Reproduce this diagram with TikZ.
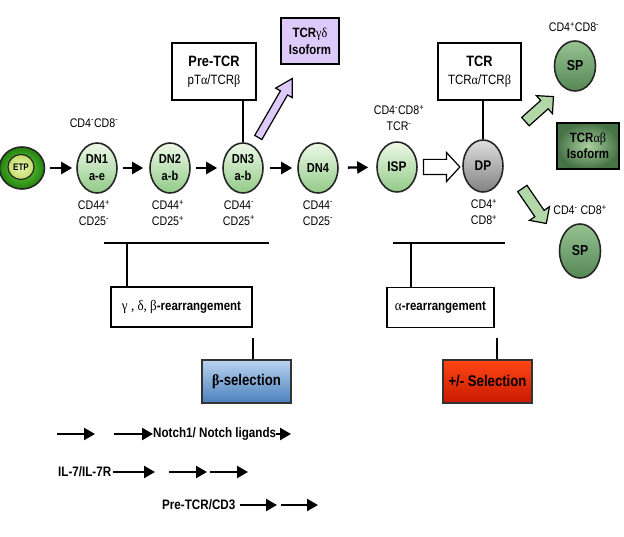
\documentclass[tikz,border=0pt]{standalone}
\usepackage{fontspec}
\setmainfont{Liberation Sans}[FakeStretch=0.85]
\newfontfamily\grk{Liberation Serif}[FakeStretch=0.9]
\usetikzlibrary{shapes.geometric,shapes.arrows,arrows.meta,calc}
\definecolor{dnTop}{RGB}{238,249,232}
\definecolor{dnBot}{RGB}{145,202,135}
\definecolor{etpLight}{RGB}{110,215,60}
\definecolor{etpDark}{RGB}{35,130,15}
\definecolor{etpPale}{RGB}{236,246,180}
\definecolor{etpPaleD}{RGB}{195,220,105}
\definecolor{spTop}{RGB}{150,195,145}
\definecolor{spBot}{RGB}{85,135,85}
\definecolor{dpTop}{RGB}{222,222,222}
\definecolor{dpBot}{RGB}{130,130,130}
\definecolor{abIn}{RGB}{170,208,160}
\definecolor{abOut}{RGB}{70,115,70}
\definecolor{lav}{RGB}{222,202,250}
\definecolor{fatGreen}{RGB}{178,216,168}
\definecolor{blueTop}{RGB}{185,212,240}
\definecolor{blueBot}{RGB}{75,128,188}
\definecolor{redTop}{RGB}{255,70,20}
\definecolor{redBot}{RGB}{200,25,0}
\newcommand\spx[1]{\textsuperscript{#1}}
\begin{document}
\begin{tikzpicture}[x=1pt,y=-1pt,
  cell/.style={ellipse, draw=black!85, line width=1.6pt, inner sep=0pt, align=center, font=\fontsize{13}{17}\selectfont\bfseries},
  dncell/.style={cell, minimum width=40pt, minimum height=50pt, top color=dnTop, bottom color=dnBot},
  spcell/.style={cell, minimum width=41pt, minimum height=50pt, top color=spTop, bottom color=spBot, font=\fontsize{14.5}{17}\selectfont\bfseries},
  lbl/.style={inner sep=0pt, align=center, font=\fontsize{12.5}{16}\selectfont},
  box/.style={draw=black, line width=1.4pt, inner sep=0pt, align=center},
  selbox/.style={draw=black!80, line width=2pt, inner sep=0pt, align=center, minimum width=89pt, minimum height=43pt, font=\fontsize{15.5}{17}\selectfont\bfseries},
  flow/.style={line width=2.3pt, -{Triangle[length=11pt,width=12pt]}},
  bar/.style={line width=1.5pt},
  fat/.style={single arrow, draw=black, line width=1.2pt, inner xsep=0pt, minimum width=0pt, anchor=tail},
  leg/.style={inner sep=0pt, font=\fontsize{13.7}{15}\selectfont\bfseries, anchor=west}
]
\useasboundingbox (0,0) rectangle (624,537);

% cells
\node[ellipse, draw=black!85, line width=1.6pt, minimum width=45pt, minimum height=42pt, inner color=etpLight, outer color=etpDark] (etp) at (22,168) {};
\node[ellipse, draw=black!85, line width=1.2pt, minimum width=26pt, minimum height=25pt, inner sep=0pt, inner color=etpPale, outer color=etpPaleD, font=\fontsize{9.5}{10}\selectfont\bfseries] (etpin) at (21,167) {ETP};
\node[dncell] (dn1) at (97,168) {DN1\\a-e};
\node[dncell] (dn2) at (170,168) {DN2\\a-b};
\node[dncell] (dn3) at (243,168) {DN3\\a-b};
\node[dncell] (dn4) at (318,168) {DN4};
\node[dncell, font=\fontsize{14}{16}\selectfont\bfseries] (isp) at (397,167) {ISP};
\node[cell, minimum width=40pt, minimum height=52pt, top color=dpTop, bottom color=dpBot, font=\fontsize{14}{16}\selectfont\bfseries] (dp) at (483,166) {DP};
\node[spcell] (sp1) at (575,66) {SP};
\node[spcell, minimum height=54pt] (sp2) at (580,251) {SP};

% labels
\node[lbl] (l0) at (94,123) {CD4\spx{-}CD8\spx{-}};
\node[lbl] (l1) at (94,213) {CD44\spx{+}\\CD25\spx{-}};
\node[lbl] (l2) at (168,213) {CD44\spx{+}\\CD25\spx{+}};
\node[lbl] (l3) at (239,213) {CD44\spx{-}\\CD25\spx{+}};
\node[lbl] (l4) at (318,213) {CD44\spx{-}\\CD25\spx{-}};
\node[lbl] (l5) at (399,118) {CD4\spx{-}CD8\spx{+}\\TCR\spx{-}};
\node[lbl] (l6) at (484,212) {CD4\spx{+}\\CD8\spx{+}};
\node[lbl] (l7) at (574,27) {CD4\spx{+}CD8\spx{-}};
\node[lbl] (l8) at (580,210) {CD4\spx{-} CD8\spx{+}};

% boxes
\node[box, minimum width=84pt, minimum height=57pt, font=\fontsize{13.5}{18}\selectfont] (pretcr) at (214,71.5) {{\fontsize{15}{18}\selectfont\bfseries Pre-TCR}\\pT{\grk α}/TCR{\grk β}};
\node[box, minimum width=83pt, minimum height=57pt, font=\fontsize{13.5}{18}\selectfont] (tcr) at (479.5,71.5) {{\fontsize{15}{18}\selectfont\bfseries TCR}\\TCR{\grk α}/TCR{\grk β}};
\node[box, fill=lav, minimum width=58pt, minimum height=46pt, font=\fontsize{13.5}{17}\selectfont\bfseries] (gd) at (310,41) {TCR{\grk\mdseries γδ}\\Isoform};
\node[box, minimum width=62pt, minimum height=46pt, inner color=abIn, outer color=abOut, font=\fontsize{13.5}{16}\selectfont\bfseries] (ab) at (588,146) {TCR{\grk\mdseries αβ}\\Isoform};
\node[box, minimum width=141pt, minimum height=40pt, font=\fontsize{13.5}{15}\selectfont\bfseries] (rb) at (181.5,307) {{\grk\mdseries\fontsize{14.5}{15}\selectfont γ , δ, β}-rearrangement};
\node[box, minimum width=107pt, minimum height=40pt, font=\fontsize{13.5}{15}\selectfont\bfseries] (ra) at (440.5,307.5) {{\grk\mdseries\fontsize{14.5}{15}\selectfont α}-rearrangement};
\node[selbox, top color=blueTop, bottom color=blueBot] (bsel) at (246.5,381.5) {{\grk β}-selection};
\node[selbox, top color=redTop, bottom color=redBot] (pmsel) at (487.5,381.5) {+/- Selection};

% main flow
\draw[flow, shorten <=5pt, shorten >=4pt] (etp) -- (dn1);
\draw[flow, shorten <=5pt, shorten >=6pt] (dn1) -- (dn2);
\draw[flow, shorten <=5pt, shorten >=5pt] (dn2) -- (dn3);
\draw[flow, shorten <=6pt, shorten >=5pt] (dn3) -- (dn4);
\draw[flow, shorten <=9pt, shorten >=8pt] (dn4) -- (isp);

% connectors to receptor boxes
\draw[bar] (dn3.north) -- (dn3.north |- pretcr.south);
\draw[bar] (dp.north) -- (dp.north |- tcr.south);

% bars
\coordinate (bl1) at (104,243); \coordinate (bl2) at (269,243);
\coordinate (bj1) at (127,243); \coordinate (s1) at (253,338);
\draw[bar] (bl1) -- (bl2);
\draw[bar] (bj1) -- (bj1 |- rb.north);
\draw[bar] (s1) -- (s1 |- bsel.north);
\coordinate (br1) at (393,243); \coordinate (br2) at (505,243);
\coordinate (bj2) at (411,243); \coordinate (s2) at (497,338);
\draw[bar] (br1) -- (br2);
\draw[bar] (bj2) -- (bj2 |- ra.north);
\draw[bar] (s2) -- (s2 |- pmsel.north);

% fat arrows
\coordinate (pgS) at (258,138); \coordinate (pgT) at (292,79);
\path let \p1=($(pgT)-(pgS)$), \n1={atan2(\y1,\x1)}, \n2={veclen(\x1,\y1)} in
  (pgS) node[fat, fill=lav, rotate=\n1, minimum height=\n2, inner ysep=3.5pt, single arrow head extend=5.5pt, single arrow tip angle=60] (fa1) {};
\coordinate (g1S) at (525,122); \coordinate (g1T) at (553,97);
\path let \p1=($(g1T)-(g1S)$), \n1={atan2(\y1,\x1)}, \n2={veclen(\x1,\y1)} in
  (g1S) node[fat, fill=fatGreen, rotate=\n1, minimum height=\n2, inner ysep=5pt, single arrow head extend=6.5pt, single arrow tip angle=90] (fa2) {};
\coordinate (g2S) at (522,188); \coordinate (g2T) at (546,223);
\path let \p1=($(g2T)-(g2S)$), \n1={atan2(\y1,\x1)}, \n2={veclen(\x1,\y1)} in
  (g2S) node[fat, fill=fatGreen, rotate=\n1, minimum height=\n2, inner ysep=5pt, single arrow head extend=6.5pt, single arrow tip angle=90] (fa3) {};
\coordinate (oaS) at ($(isp.east)+(5,0)$); \coordinate (oaT) at ($(dp.west)+(-3,0)$);
\path let \p1=($(oaT)-(oaS)$), \n2={veclen(\x1,\y1)} in
  (oaS) node[fat, fill=white, minimum height=\n2, inner ysep=7pt, single arrow head extend=7pt, single arrow tip angle=95] (fa4) {};

% legend
\coordinate (r1a) at (57,434); \coordinate (r1b) at (95,434); \coordinate (r1c) at (114,434); \coordinate (r1d) at (291,434);
\node[leg] (notch) at (153,434) {Notch1/ Notch ligands};
\draw[flow] (r1a) -- (r1b);
\draw[flow] (r1c) -- (notch.west);
\draw[flow] (notch.east) -- (r1d);
\node[leg] (il7) at (58,472) {IL-7/IL-7R};
\coordinate (r2a) at (155,472); \coordinate (r2b) at (169,472); \coordinate (r2c) at (207,472);
\coordinate (r2d) at (210,472); \coordinate (r2e) at (248,472);
\draw[flow, shorten <=2pt] (il7.east) -- (r2a);
\draw[flow] (r2b) -- (r2c);
\draw[flow] (r2d) -- (r2e);
\node[leg] (ptc) at (162,505) {Pre-TCR/CD3};
\coordinate (r3a) at (277,505); \coordinate (r3b) at (281,505); \coordinate (r3c) at (318,505);
\draw[flow, shorten <=4pt] (ptc.east) -- (r3a);
\draw[flow] (r3b) -- (r3c);
\end{tikzpicture}
\end{document}
